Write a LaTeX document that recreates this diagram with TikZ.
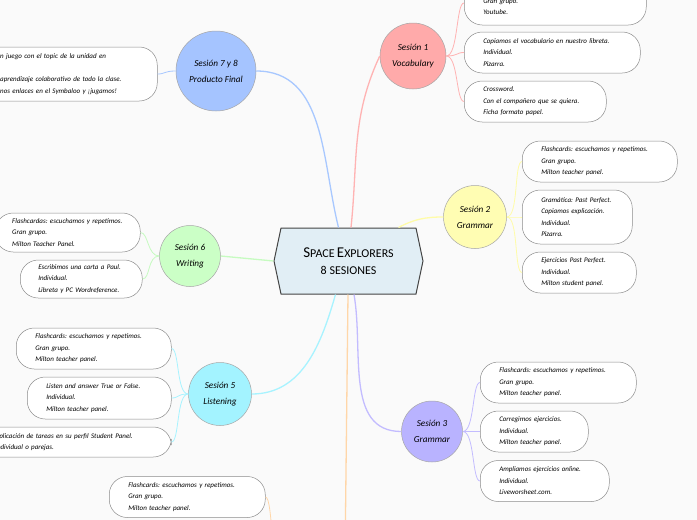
\documentclass[tikz,border=0pt]{standalone}
\usepackage{fontspec}
\setmainfont{Carlito}
\usetikzlibrary{positioning,shapes.symbols}

\definecolor{hubfill}{HTML}{E1EEF5}
\definecolor{hubline}{HTML}{444444}
\definecolor{boxline}{HTML}{8C8C8C}
\definecolor{fillA}{HTML}{FFAAAA}
\definecolor{lineA}{HTML}{FFB3B3}
\definecolor{fillB}{HTML}{FFFDB3}
\definecolor{lineB}{HTML}{FFFCA8}
\definecolor{fillC}{HTML}{B9B3FF}
\definecolor{lineC}{HTML}{C3BCFF}
\definecolor{lineD}{HTML}{FFD6A8}
\definecolor{fillE}{HTML}{A3F3FF}
\definecolor{lineE}{HTML}{A8F3FF}
\definecolor{fillF}{HTML}{CBFFC6}
\definecolor{lineF}{HTML}{C6FBC0}
\definecolor{fillG}{HTML}{A5C4FF}
\definecolor{lineG}{HTML}{A8C8FF}

\newcommand{\bigsc}[2]{{\fontsize{15}{15}\selectfont #1}{\fontsize{12}{15}\selectfont #2}}
\frenchspacing

\begin{document}
\begin{tikzpicture}[
  x=1pt, y=-1pt,
  hub/.style={shape=signal, signal to=east and west, signal pointer angle=156,
              draw=hubline, line width=1pt, fill=hubfill, minimum width=149pt,
              minimum height=66pt, align=center, inner sep=0pt},
  topic/.style={circle, draw=gray!70, line width=0.5pt, align=center, inner sep=0pt,
                font=\itshape\fontsize{9.2}{16}\selectfont},
  note/.style={draw=boxline, line width=0.5pt, fill=white, rounded corners=18pt,
               anchor=west, align=left, inner xsep=19pt, inner ysep=0pt,
               minimum height=41pt, font=\itshape\fontsize{7}{11.5}\selectfont},
  branch/.style={line width=1.3pt},
  twig/.style={line width=0.8pt}]

  \useasboundingbox[fill=white!98!black] (0,0) rectangle (697,520);

  % central topic
  \node[hub] (hub) at (348.5,261) {\bigsc{S}{PACE} \bigsc{E}{XPLORERS}\\[5pt]
    {\fontsize{12}{15}\selectfont 8 SESIONES}};

  % sessions
  \node[topic, fill=fillA, minimum size=66pt] (s1) at (413,56) {Sesión 1\\Vocabulary};
  \node[topic, fill=fillB, minimum size=63pt] (s2) at (475,217) {Sesión 2\\Grammar};
  \node[topic, fill=fillC, minimum size=61pt] (s3) at (432,431.5) {Sesión 3\\Grammar};
  \node[topic, fill=fillE, minimum size=63pt] (s5) at (220,394) {Sesión 5\\Listening};
  \node[topic, fill=fillF, minimum size=61pt] (s6) at (190,256) {Sesión 6\\Writing};
  \node[topic, fill=fillG, minimum size=80pt] (s7) at (216,71) {Sesión 7 y 8\\Producto Final};
  \coordinate (s4top) at (345,560);
  \coordinate (s4left) at (283,585);

  % Sesión 1
  \node[note, text width=144pt, minimum height=44pt] (s1a) at (464,3) {~\\[1pt]Gran grupo.\\[-1pt]Youtube.};
  \node[note, text width=138pt] (s1b) at (464,52.5) {Copiamos el vocabulario en nuestro libreta.\\Individual.\\Pizarra.};
  \node[note, text width=104pt] (s1c) at (464,101.5) {Crossword.\\Con el compañero que se quiera.\\Ficha formato papel.};
  % Sesión 2
  \node[note, text width=117pt] (s2a) at (522,161.5) {Flashcards: escuchamos y repetimos.\\Gran grupo.\\Milton teacher panel.};
  \node[note, text width=72pt, minimum height=54pt] (s2b) at (522,217) {Gramática: Past Perfect.\\Copiamos explicación.\\Individual.\\Pizarra.};
  \node[note, text width=76pt] (s2c) at (522,272.5) {Ejercicios Past Perfect.\\Individual.\\Milton student panel.};
  % Sesión 3
  \node[note, text width=118pt] (s3a) at (480,382.5) {Flashcards: escuchamos y repetimos.\\Gran grupo.\\Milton teacher panel.};
  \node[note, text width=70pt] (s3b) at (480,431.5) {Corregimos ejercicios.\\Individual.\\Milton teacher panel.};
  \node[note, text width=91pt] (s3c) at (480,481) {Ampliamos ejercicios online.\\Individual.\\Liveworsheet.com.};
  % Sesión 4
  \node[note, text width=118pt] (s4a) at (109,497) {Flashcards: escuchamos y repetimos.\\Gran grupo.\\Milton teacher panel.};
  % Sesión 5
  \node[note, text width=117pt] (s5a) at (16,348.5) {Flashcards: escuchamos y repetimos.\\Gran grupo.\\Milton teacher panel.};
  \node[note, text width=106pt, minimum height=42pt] (s5b) at (27,398) {Listen and answer True or False.\\Individual.\\Milton teacher panel.};
  \node[note, text width=157pt, minimum height=30pt] (s5c) at (-24,442) {Aplicación de tareas en su perfil Student Panel.\\Individual o parejas.};
  % Sesión 6
  \node[note, text width=111pt, minimum height=39pt, inner xsep=17pt] (s6a) at (-5,232.5) {Flashcardas: escuchamos y repetimos.\\Gran grupo.\\Milton Teacher Panel.};
  \node[note, text width=86pt, minimum height=38pt, inner xsep=18pt] (s6b) at (20,279) {Escribimos una carta a Paul.\\Individual.\\Libreta y PC Wordreference.};
  % Sesión 7 y 8
  \node[note, text width=138pt, minimum height=54pt] (s7a) at (-19,74) {n juego con el topic de la unidad en\\~\\aprendizaje colaborativo de todo la clase.\\nos enlaces en el Symbaloo y ¡jugamos!};

  % main branches
  \draw[branch, lineG] ([xshift=-10pt]hub.north) to[out=104, in=0] (s7.east);
  \draw[branch, lineA] ([xshift=2.5pt]hub.north) to[out=84, in=245] (s1.west);
  \draw[branch, lineB] ([xshift=50pt]hub.north) to[out=28, in=180] (s2.west);
  \draw[branch, lineF] (hub.west) -- (s6.east);
  \draw[branch, lineE] ([xshift=-13pt]hub.south) to[out=-106, in=0] (s5.east);
  \draw[branch, lineC] ([xshift=5.5pt]hub.south) to[out=-80, in=180] (s3.west);
  \draw[branch, lineD] ([xshift=-0.5pt]hub.south) -- (s4top);

  % twigs to the right
  \foreach \t/\n/\c in {s1/s1a/lineA, s1/s1b/lineA, s1/s1c/lineA,
                        s2/s2a/lineB, s2/s2b/lineB, s2/s2c/lineB,
                        s3/s3a/lineC, s3/s3b/lineC, s3/s3c/lineC}
    \draw[twig, \c] (\t.east) .. controls +(12,0) and +(-8,0) .. (\n.west);
  % twigs to the left
  \foreach \t/\n/\c in {s5/s5a/lineE, s5/s5b/lineE, s5/s5c/lineE,
                        s6/s6a/lineF, s6/s6b/lineF, s7/s7a/lineG}
    \draw[twig, \c] (\t.west) .. controls +(-12,0) and +(8,0) .. (\n.east);
  \draw[twig, lineD] (s4left) .. controls +(-12,0) and +(8,0) .. (s4a.east);
\end{tikzpicture}
\end{document}
